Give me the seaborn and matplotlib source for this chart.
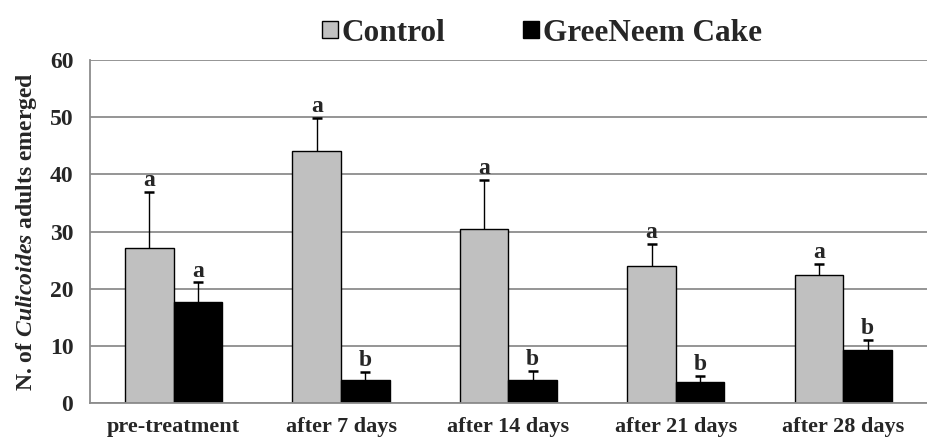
import matplotlib
matplotlib.use("Agg")
import matplotlib.pyplot as plt
import seaborn as sns
import pandas as pd
import numpy as np

categories = ["pre-treatment", "after 7 days", "after 14 days", "after 21 days", "after 28 days"]
series_names = ["Control", "GreeNeem Cake"]
control = [27.2, 44.1, 30.5, 24.0, 22.4]
control_err = [9.7, 5.8, 8.5, 3.9, 1.9]
neem = [17.7, 4.0, 4.0, 3.7, 9.3]
neem_err = [3.4, 1.5, 1.6, 1.0, 1.7]
control_letters = ["a", "a", "a", "a", "a"]
neem_letters = ["a", "b", "b", "b", "b"]
y_ticks = [0, 10, 20, 30, 40, 50, 60]

sns.set_theme(style="white")
plt.rcParams["font.family"] = ["Liberation Serif", "DejaVu Serif"]
plt.rcParams["font.weight"] = "bold"
plt.rcParams["mathtext.fontset"] = "custom"
plt.rcParams["mathtext.it"] = "Liberation Serif:italic:bold"
plt.rcParams["mathtext.rm"] = "Liberation Serif:bold"

df = pd.DataFrame({
    "category": categories * 2,
    "series": [series_names[0]] * 5 + [series_names[1]] * 5,
    "value": control + neem,
})

fig = plt.figure(figsize=(9.27, 4.45), dpi=100)
ax = fig.add_axes([0.097, 0.0944, 0.903, 0.7706])

sns.barplot(data=df, x="category", y="value", hue="series", order=categories,
            hue_order=series_names, palette=["#c0c0c0", "#000000"],
            width=0.58, gap=0, errorbar=None, edgecolor="#000000", linewidth=1.0,
            saturation=1, ax=ax, zorder=2)

errs = [control_err, neem_err]
letters = [control_letters, neem_letters]
for cont, err, lets in zip(ax.containers, errs, letters):
    xs = [b.get_x() + b.get_width() / 2 for b in cont]
    ys = [b.get_height() for b in cont]
    ax.errorbar(xs, ys, yerr=err, fmt="none", ecolor="black",
                elinewidth=1.0, capsize=3.5, capthick=1.8, zorder=1.5)
    for x, y, e, l in zip(xs, ys, err, lets):
        ax.annotate(l, (x, y + e), xytext=(0, 0.5), textcoords="offset points",
                    ha="center", va="bottom", fontsize=17, fontweight="bold")

ax.set_ylim(0, 60)
ax.set_xlim(-0.5, 4.5)
ax.set_yticks(y_ticks)
ax.yaxis.grid(True, color="#8c8c8c", linewidth=1.3, zorder=0.5)
ax.set_axisbelow(True)
for s in ["top", "right"]:
    ax.spines[s].set_visible(False)
for s in ["left", "bottom"]:
    ax.spines[s].set_color("#8c8c8c")
    ax.spines[s].set_linewidth(1.3)
ax.tick_params(axis="y", length=6, width=1.3, color="#8c8c8c", pad=6, labelsize=17)
ax.tick_params(axis="x", which="major", length=0, pad=10, labelsize=16)
ax.set_xticks([0.5, 1.5, 2.5, 3.5], minor=True)
ax.tick_params(axis="x", which="minor", length=5, width=1.3, color="#8c8c8c", direction="out")
for t in ax.get_xticklabels() + ax.get_yticklabels():
    t.set_fontweight("bold")
ax.set_xlabel("")
ax.set_ylabel(r"N. of $\mathit{Culicoides}$ adults emerged", fontsize=17,
              fontweight="bold", labelpad=8)

sns.move_legend(ax, "lower center", bbox_to_anchor=(0.54, 1.0), ncol=2, frameon=False,
                title=None, fontsize=22.5, handlelength=0.5, handleheight=0.5,
                handletextpad=0.12, columnspacing=2.5, borderaxespad=0)
for t in ax.get_legend().get_texts():
    t.set_fontweight("bold")

fig.savefig("out.png", dpi=100)
